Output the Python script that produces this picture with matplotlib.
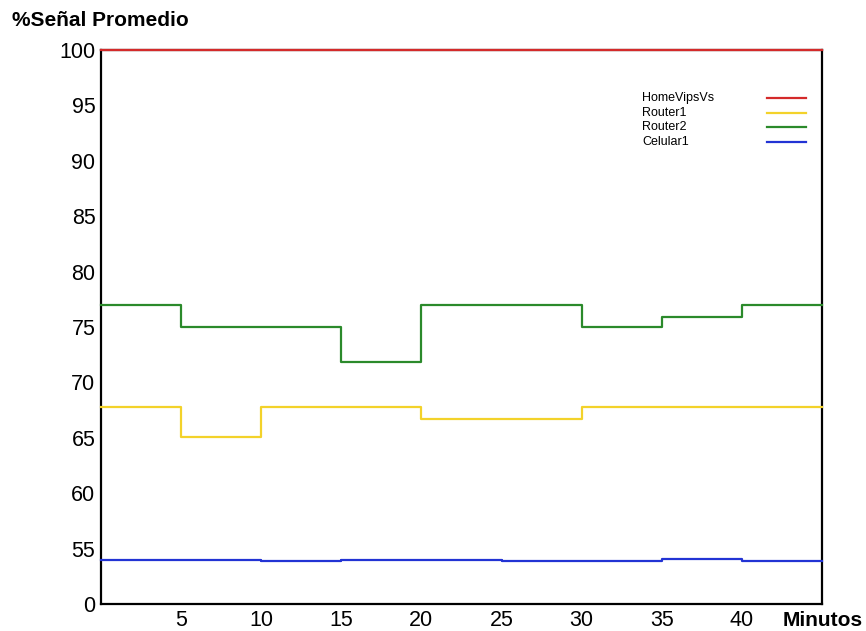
import matplotlib.pyplot as plt

plt.rcParams['font.family'] = ['Liberation Sans', 'DejaVu Sans']

# minutos (inicio de cada intervalo)
minutos = [0, 5, 10, 15, 20, 25, 30, 35, 40, 45]

home_vips = [100, 100, 100, 100, 100, 100, 100, 100, 100]
router1 = [67.8, 65.1, 67.8, 67.8, 66.7, 66.7, 67.8, 67.8, 67.8]
router2 = [77.0, 75.0, 75.0, 71.8, 77.0, 77.0, 75.0, 75.9, 77.0]
celular1 = [54.0, 54.0, 53.85, 54.0, 54.0, 53.85, 53.85, 54.05, 53.9]

y_ticks = [50, 55, 60, 65, 70, 75, 80, 85, 90, 95, 100]
y_labels = ['0', '55', '60', '65', '70', '75', '80', '85', '90', '95', '100']
x_ticks = [5, 10, 15, 20, 25, 30, 35, 40]

fig = plt.figure(figsize=(8.66, 6.31), dpi=100)
ax = fig.add_axes([0.1166, 0.0428, 0.8326, 0.878])

series = [
    ('HomeVipsVs', home_vips, '#d42a2a'),
    ('Router1', router1, '#f3d22a'),
    ('Router2', router2, '#2b8a2b'),
    ('Celular1', celular1, '#2233d4'),
]
for name, vals, col in series:
    ax.step(minutos, vals + [vals[-1]], where='post', color=col, lw=1.6,
            label=name, clip_on=False, zorder=3)

ax.set_xlim(0, 45)
ax.set_ylim(50, 100)
ax.set_xticks(x_ticks)
ax.set_yticks(y_ticks)
ax.set_yticklabels(y_labels)
ax.tick_params(length=0, labelsize=15.5, pad=4)
for s in ax.spines.values():
    s.set_linewidth(1.6)

fig.text(0.014, 0.967, '%Señal Promedio', fontsize=15, fontweight='bold',
         va='center', ha='left')
fig.text(0.996, 0.016, 'Minutos', fontsize=15, fontweight='bold',
         va='center', ha='right')

# leyenda: texto a la izquierda, muestra de línea a la derecha
leg_rows = [0.9134, 0.8866, 0.8604, 0.834]
for (name, vals, col), yy in zip(series, leg_rows):
    ax.text(0.7503, yy, name, transform=ax.transAxes, fontsize=9,
            ha='left', va='center')
    ax.plot([0.9237, 0.9778], [yy, yy], transform=ax.transAxes,
            color=col, lw=1.6)

fig.savefig('out.png', dpi=100)
